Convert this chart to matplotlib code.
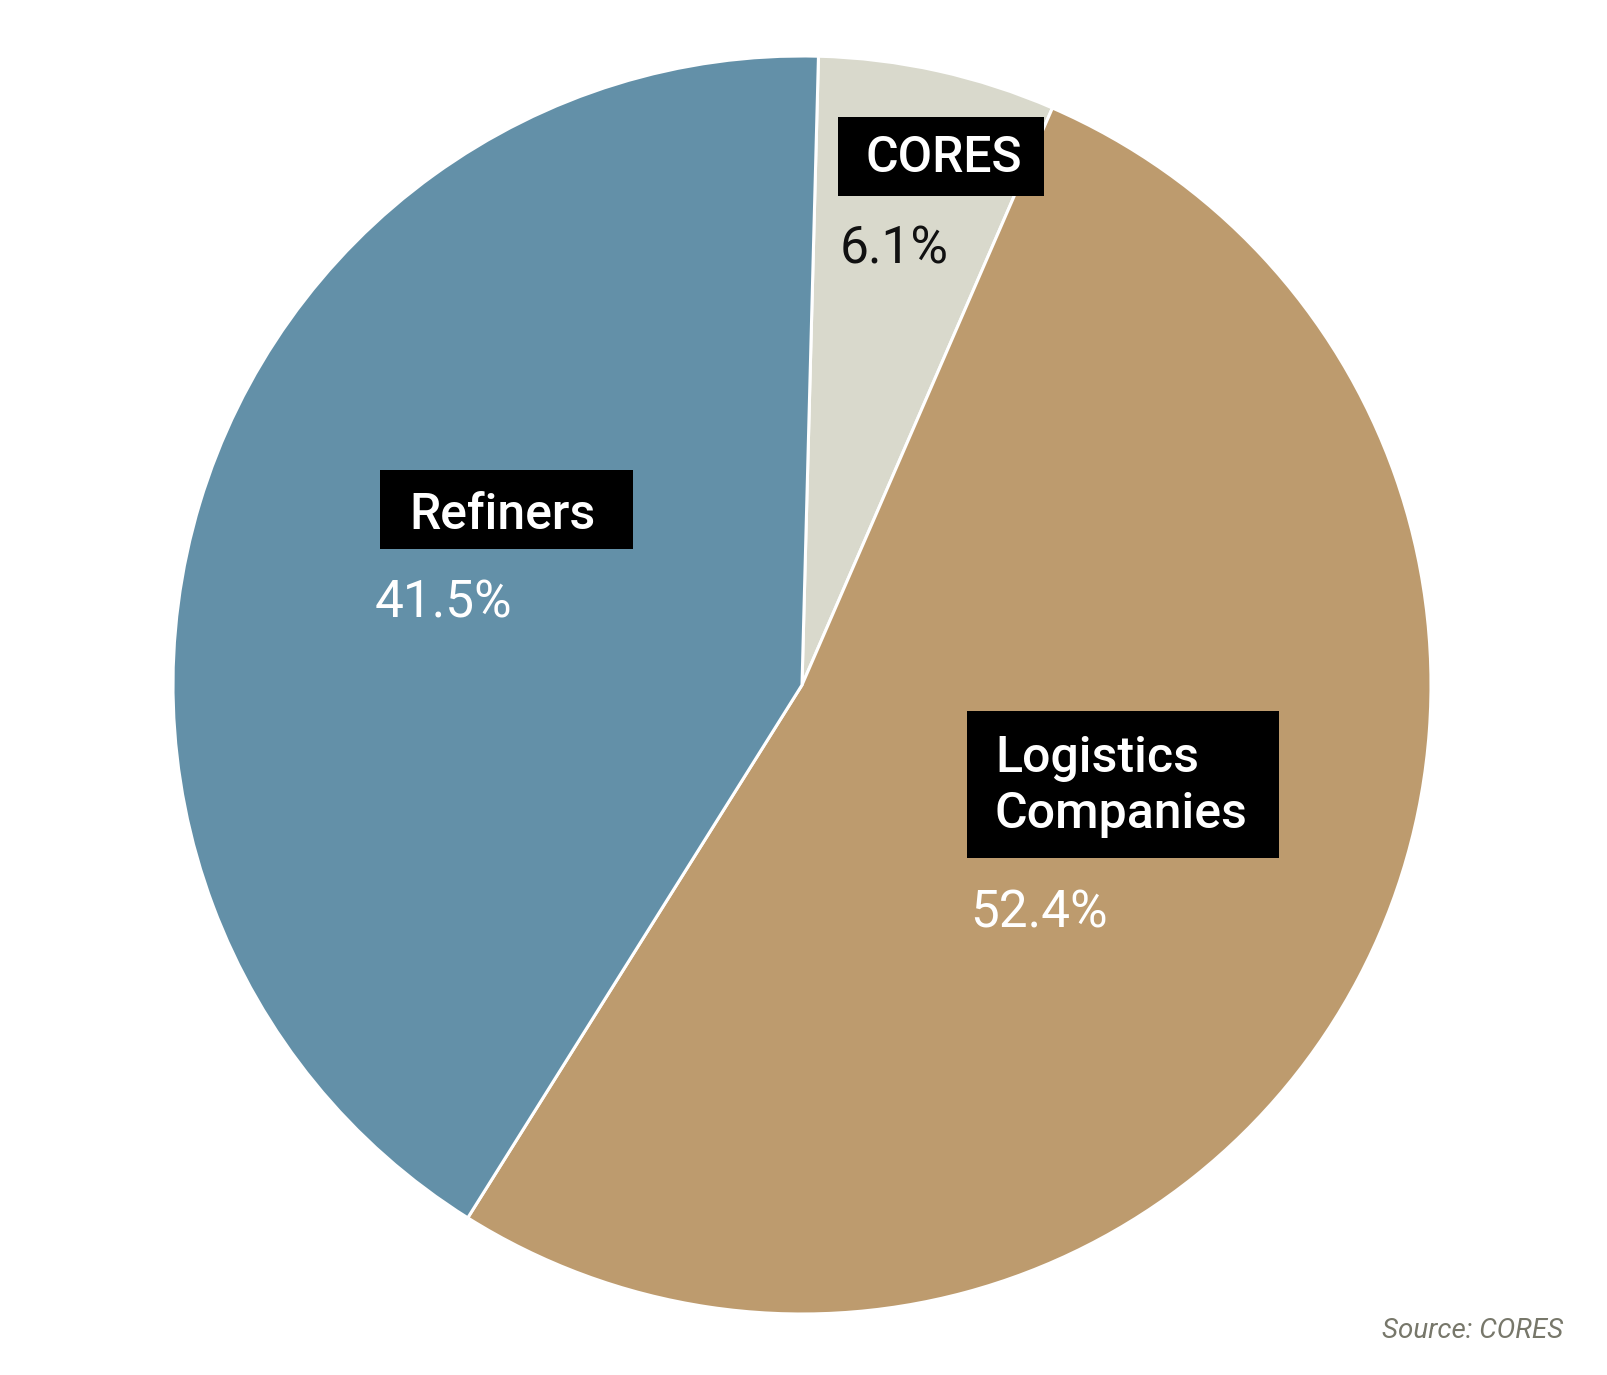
import matplotlib.pyplot as plt
from matplotlib.patches import Rectangle

plt.rcParams['font.family'] = ['Roboto', 'DejaVu Sans']

labels = ['CORES', 'Logistics\nCompanies', 'Refiners']
shares = [6.1, 52.4, 41.5]
pct_labels = ['6.1%', '52.4%', '41.5%']
colors = ['#d9d9cc', '#bd9b6e', '#6390a8']
pct_colors = ['#111111', 'white', 'white']

# label layout in pixels (y measured from top)
boxes = [(838, 117, 1044, 196), (967, 711, 1279, 858), (380, 470, 633, 549)]
name_pos = [(866, 172), (995, 772), (409, 529)]
pct_pos = [(840, 263), (970, 927), (375, 617)]

fig = plt.figure(figsize=(16.08, 13.75), dpi=100)
ax = fig.add_axes([0, 0, 1, 1])

# y axis is flipped, so counterclock in data is clockwise on screen
ax.pie(shares, colors=colors, center=(802, 685), radius=629,
       startangle=-88.5, counterclock=True, frame=True,
       wedgeprops=dict(edgecolor='white', linewidth=2.2))
ax.set_xlim(0, 1608)
ax.set_ylim(1375, 0)
ax.set_aspect('auto')
ax.axis('off')

for i, lab in enumerate(labels):
    x0, y0, x1, y1 = boxes[i]
    ax.add_patch(Rectangle((x0, y0), x1 - x0, y1 - y0, facecolor='black',
                           edgecolor='none', zorder=3))
    for j, line in enumerate(lab.split('\n')):
        ax.text(name_pos[i][0], name_pos[i][1] + j * 56, line, color='white',
                fontsize=36, fontweight='medium', ha='left', va='baseline',
                zorder=4)
    ax.text(pct_pos[i][0], pct_pos[i][1], pct_labels[i], color=pct_colors[i],
            fontsize=37, ha='left', va='baseline', zorder=4)

ax.text(1563, 1338, 'Source: CORES', color='#77776a', fontsize=20,
        style='italic', ha='right', va='baseline')

fig.savefig('out.png', dpi=100, facecolor='white')
